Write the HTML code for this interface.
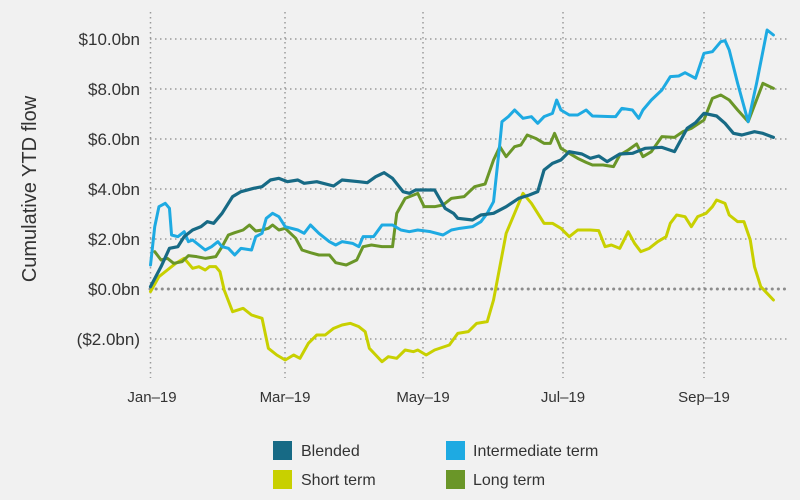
<!DOCTYPE html>
<html><head><meta charset="utf-8"><style>
html,body{margin:0;padding:0;background:#f1f1f1;}
svg{display:block;font-family:"Liberation Sans",sans-serif;}
</style></head><body>
<svg width="800" height="500" viewBox="0 0 800 500" xmlns="http://www.w3.org/2000/svg">
<rect width="800" height="500" fill="#f1f1f1"/>
<g stroke="#9a9a9a" stroke-width="1.5" stroke-dasharray="1.5,3.5">
<line x1="150" y1="39" x2="788" y2="39"/>
<line x1="150" y1="89" x2="788" y2="89"/>
<line x1="150" y1="139" x2="788" y2="139"/>
<line x1="150" y1="189" x2="788" y2="189"/>
<line x1="150" y1="239" x2="788" y2="239"/>
<line x1="150" y1="339" x2="788" y2="339"/>
<line x1="150.5" y1="12" x2="150.5" y2="378"/>
<line x1="285" y1="12" x2="285" y2="378"/>
<line x1="423" y1="12" x2="423" y2="378"/>
<line x1="563" y1="12" x2="563" y2="378"/>
<line x1="704" y1="12" x2="704" y2="378"/>
</g>
<line x1="150" y1="289" x2="788" y2="289" stroke="#8c8c8c" stroke-width="3" stroke-dasharray="0.1,6" stroke-linecap="round"/>
<g fill="#333" font-size="17" text-anchor="end">
<text x="140" y="45">$10.0bn</text>
<text x="140" y="95">$8.0bn</text>
<text x="140" y="145">$6.0bn</text>
<text x="140" y="195">$4.0bn</text>
<text x="140" y="245">$2.0bn</text>
<text x="140" y="295">$0.0bn</text>
<text x="140" y="345">($2.0bn)</text>
</g>
<text transform="translate(36,189) rotate(-90)" text-anchor="middle" font-size="20" fill="#333">Cumulative YTD flow</text>
<g fill="#333" font-size="15" text-anchor="middle">
<text x="152" y="402">Jan–19</text>
<text x="285" y="402">Mar–19</text>
<text x="423" y="402">May–19</text>
<text x="563" y="402">Jul–19</text>
<text x="704" y="402">Sep–19</text>
</g>
<g transform="translate(140,0) scale(0.420875,0.333333)" fill="none" stroke-linejoin="round" stroke-linecap="round">
<polyline vector-effect="non-scaling-stroke" stroke="#c8d000" stroke-width="3" points="25,875 45,830 65,810 85,790 105,775 125,805 140,800 155,810 165,800 180,800 190,815 200,870 220,935 245,925 265,945 290,955 305,1045 325,1065 345,1080 365,1065 380,1075 400,1030 420,1005 440,1005 460,985 480,975 500,970 520,980 535,995 545,1045 560,1065 575,1085 590,1070 610,1075 630,1050 650,1055 660,1050 680,1065 700,1050 735,1035 755,1000 780,995 800,970 825,965 840,900 855,800 870,700 890,640 910,580 930,610 945,640 960,670 980,670 1000,685 1020,710 1040,690 1070,690 1090,692 1105,740 1120,735 1140,745 1160,695 1175,730 1190,755 1210,745 1230,725 1250,710 1260,670 1275,645 1295,650 1310,680 1325,650 1345,640 1360,620 1370,600 1390,610 1400,645 1420,665 1435,665 1450,720 1460,800 1475,860 1490,880 1505,900"/>
<polyline vector-effect="non-scaling-stroke" stroke="#6a9628" stroke-width="3" points="35,755 50,780 65,775 80,790 100,785 115,767 135,770 155,775 180,770 195,740 210,705 225,698 245,690 260,675 275,693 290,690 305,685 315,675 330,690 345,685 370,715 385,750 405,758 425,765 450,765 465,788 490,795 515,780 530,740 550,735 575,740 600,740 610,640 630,595 660,580 675,620 700,620 720,615 740,595 770,590 795,560 820,552 840,480 855,440 870,470 890,440 905,435 920,405 940,415 960,430 975,430 985,400 1000,445 1020,460 1040,475 1060,487 1075,495 1100,495 1125,500 1140,465 1160,450 1180,432 1195,470 1215,455 1240,410 1270,412 1290,395 1310,385 1340,360 1360,295 1380,285 1400,300 1420,330 1445,365 1480,250 1505,265"/>
<polyline vector-effect="non-scaling-stroke" stroke="#1eaae2" stroke-width="3" points="25,795 35,680 45,620 60,610 70,625 75,705 90,710 105,695 115,725 125,720 140,735 155,750 170,740 185,725 195,740 210,745 225,765 240,745 265,750 275,710 290,700 300,655 315,640 330,650 345,680 375,690 390,700 405,675 425,700 450,725 465,735 480,725 505,730 520,740 530,710 555,710 575,675 600,675 620,690 640,695 660,690 690,695 720,705 740,690 760,685 790,680 810,665 825,640 840,605 855,430 860,365 875,350 890,330 910,355 930,350 945,370 960,350 980,340 990,300 1000,330 1020,345 1040,345 1060,330 1075,348 1120,350 1130,350 1145,325 1170,330 1185,355 1195,330 1215,300 1240,270 1260,230 1280,228 1295,218 1320,235 1340,160 1360,155 1380,125 1390,122 1400,150 1420,250 1445,365 1465,250 1490,90 1505,105"/>
<polyline vector-effect="non-scaling-stroke" stroke="#176a85" stroke-width="3.2" points="25,860 50,800 70,745 90,740 105,710 125,690 145,680 160,665 175,670 195,640 220,590 240,575 270,565 290,560 310,540 330,535 350,545 375,540 390,550 420,545 460,558 480,540 520,545 540,548 560,530 580,518 600,535 625,575 640,580 655,570 700,570 725,625 745,640 755,655 790,660 810,645 840,640 870,620 900,595 925,585 945,575 960,510 980,490 1000,480 1020,455 1050,462 1070,475 1090,468 1110,485 1140,462 1170,460 1200,445 1240,442 1270,455 1300,385 1320,368 1340,340 1370,348 1390,370 1410,400 1430,405 1460,395 1480,400 1505,412"/>
</g>
<rect x="273" y="441" width="19" height="19" fill="#176a85"/>
<rect x="446" y="441" width="19" height="19" fill="#1eaae2"/>
<rect x="273" y="470" width="19" height="19" fill="#c8d000"/>
<rect x="446" y="470" width="19" height="19" fill="#6a9628"/>
<g fill="#333" font-size="16">
<text x="301" y="456">Blended</text>
<text x="473" y="456">Intermediate term</text>
<text x="301" y="485">Short term</text>
<text x="473" y="485">Long term</text>
</g>
</svg>
</body></html>
